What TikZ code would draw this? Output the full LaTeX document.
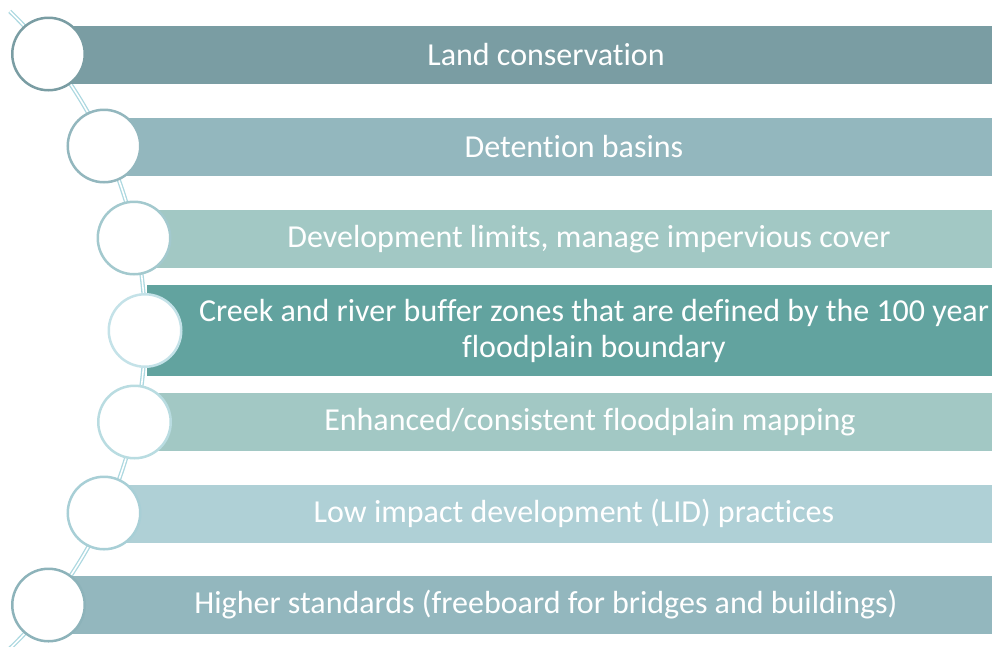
\documentclass[tikz,border=0pt]{standalone}
\usepackage{fontspec}
\setmainfont{Carlito}[Ligatures={NoCommon}]
\definecolor{bA}{HTML}{7A9DA3}
\definecolor{bB}{HTML}{93B7BE}
\definecolor{bC}{HTML}{A2C8C4}
\definecolor{bD}{HTML}{62A39F}
\definecolor{bF}{HTML}{AFD0D6}
\definecolor{cC}{HTML}{A3C9CE}
\definecolor{cD}{HTML}{C4E2E8}
\definecolor{cE}{HTML}{B9DCE1}
\definecolor{cF}{HTML}{A8CFD6}
\definecolor{cG}{HTML}{8DB3BA}
\definecolor{arcc}{HTML}{ACD8E0}
\tikzset{
  bar/.style={rectangle, anchor=west, inner sep=0pt, minimum height=58pt, draw=none},
  circ/.style={circle, fill=white, line width=2.5pt, minimum size=72.5pt, inner sep=0pt},
  txt/.style={text=white, font=\fontsize{32}{36}\selectfont, inner sep=0pt, align=center},
  spine/.style={draw=arcc, line width=1.3pt, double=white, double distance=1.6pt}
}
\begin{document}
\begin{tikzpicture}[x=1pt,y=-1pt]
\useasboundingbox (0,0) rectangle (992,646);
\clip (0,0) rectangle (992,646);
\coordinate (ctr) at (-298,330);
\path (ctr) ++(-46:443) coordinate (s0);
\draw[spine] (s0) arc[start angle=-46, end angle=47, radius=443];
% bars
\node[bar, fill=bA, minimum width=943.5pt] (b1) at (48.5,55) {};
\node[bar, fill=bB, minimum width=888pt] (b2) at (104,147) {};
\node[bar, fill=bC, minimum width=858pt] (b3) at (134,239) {};
\node[bar, fill=bD, minimum width=845pt, minimum height=91pt] (b4) at (147,330.5) {};
\node[bar, fill=bC, minimum width=857pt] (b5) at (135,422) {};
\node[bar, fill=bF, minimum width=888pt] (b6) at (104,513.5) {};
\node[bar, fill=bB, minimum width=943.5pt] (b7) at (48.5,605) {};
% circles
\node[circ, draw=bA] (c1) at (48.5,54) {};
\node[circ, draw=bB] (c2) at (104,146) {};
\node[circ, draw=cC] (c3) at (134,238) {};
\node[circ, draw=cD] (c4) at (145,330.5) {};
\node[circ, draw=cE] (c5) at (134.5,422) {};
\node[circ, draw=cF] (c6) at (104,513) {};
\node[circ, draw=cG] (c7) at (48.5,605) {};
% texts
\node[txt] (t1) at (546,55) {Land conservation};
\node[txt] (t2) at (574,147) {Detention basins};
\node[txt] (t3) at (589,239) {Development limits, manage impervious cover};
\node[txt] (t4) at (594,330.5) {Creek and river buffer zones that are defined by the 100 year\\floodplain boundary};
\node[txt] (t5) at (590,422) {Enhanced/consistent floodplain mapping};
\node[txt] (t6) at (574,513.5) {Low impact development (LID) practices};
\node[txt] (t7) at (546,605) {Higher standards (freeboard for bridges and buildings)};
\end{tikzpicture}
\end{document}
